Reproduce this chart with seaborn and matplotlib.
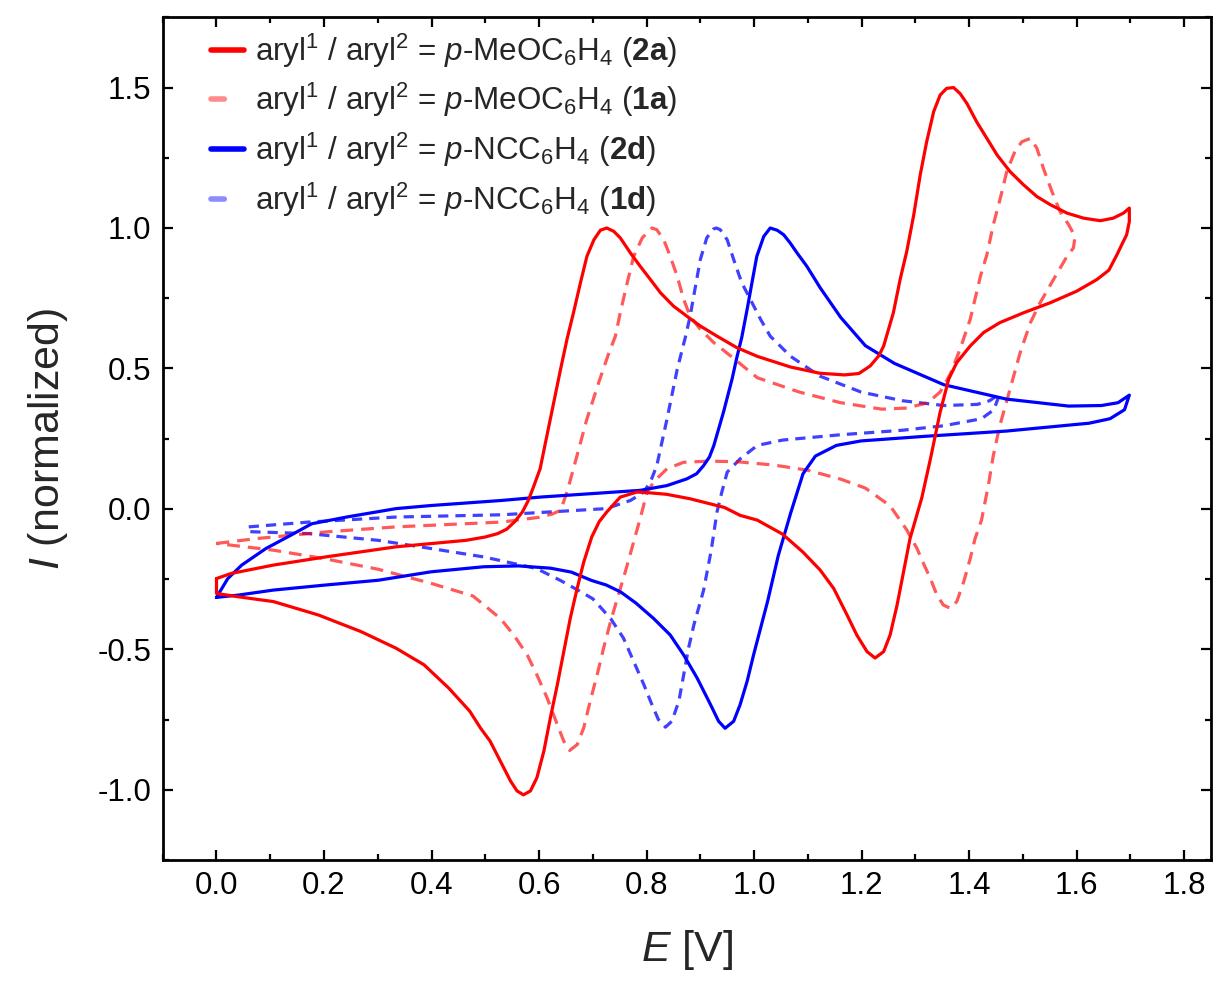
import matplotlib
matplotlib.use("Agg")
import matplotlib.pyplot as plt
from matplotlib.lines import Line2D
from matplotlib.ticker import MultipleLocator, FormatStrFormatter
import pandas as pd
import seaborn as sns

# curve 2a (solid red), E [V] / I (normalized), read along the loop
e_2a = [0.000, 0.027, 0.106, 0.203, 0.334, 0.464, 0.500, 0.523, 0.540, 0.555, 0.569, 0.580, 0.590, 0.602,
        0.621, 0.640, 0.652, 0.664, 0.677, 0.689, 0.702, 0.714, 0.726, 0.739, 0.751, 0.770, 0.788, 0.807,
        0.826, 0.850, 0.875, 0.900, 0.931, 0.968, 1.006, 1.068, 1.122, 1.168, 1.195, 1.216, 1.232, 1.241,
        1.259, 1.272, 1.284, 1.297, 1.309, 1.321, 1.334, 1.346, 1.358, 1.371, 1.383, 1.396, 1.414, 1.433,
        1.452, 1.476, 1.501, 1.526, 1.551, 1.582, 1.613, 1.644, 1.668, 1.687, 1.698,
        1.698, 1.693, 1.684, 1.675, 1.660, 1.638, 1.600, 1.551, 1.501, 1.457, 1.427, 1.402, 1.377, 1.362,
        1.346, 1.328, 1.312, 1.300, 1.290, 1.278, 1.266, 1.253, 1.241, 1.225, 1.210, 1.191, 1.173, 1.148,
        1.123, 1.091, 1.053, 1.006, 0.974, 0.945, 0.881, 0.837, 0.807, 0.782, 0.751, 0.726, 0.712, 0.698,
        0.683, 0.670, 0.658, 0.646, 0.634, 0.621, 0.609, 0.596, 0.584, 0.571, 0.559, 0.547, 0.528, 0.509,
        0.491, 0.471, 0.432, 0.386, 0.334, 0.269, 0.190, 0.106, 0.041, 0.000, 0.000]
i_2a = [-0.248, -0.230, -0.200, -0.171, -0.135, -0.112, -0.100, -0.088, -0.072, -0.045, -0.011, 0.030, 0.080,
        0.143, 0.320, 0.497, 0.604, 0.698, 0.805, 0.899, 0.958, 0.992, 1.000, 0.988, 0.965, 0.911, 0.864,
        0.817, 0.769, 0.722, 0.686, 0.651, 0.615, 0.574, 0.543, 0.505, 0.483, 0.477, 0.482, 0.509, 0.545,
        0.580, 0.698, 0.820, 0.917, 1.047, 1.189, 1.307, 1.414, 1.473, 1.497, 1.500, 1.479, 1.443, 1.378,
        1.319, 1.260, 1.201, 1.154, 1.112, 1.083, 1.053, 1.035, 1.026, 1.035, 1.053, 1.071,
        1.023, 0.976, 0.941, 0.905, 0.850, 0.817, 0.775, 0.734, 0.698, 0.663, 0.628, 0.580, 0.521, 0.462,
        0.344, 0.178, 0.040, -0.040, -0.106, -0.224, -0.342, -0.449, -0.508, -0.531, -0.508, -0.449,
        -0.378, -0.283, -0.218, -0.154, -0.090, -0.040, -0.023, 0.005, 0.036, 0.052, 0.057, 0.060, 0.042,
        -0.011, -0.045, -0.100, -0.190, -0.290, -0.390, -0.508, -0.626, -0.744, -0.862, -0.957, -1.004,
        -1.018, -1.004, -0.969, -0.898, -0.827, -0.780, -0.720, -0.638, -0.555, -0.496, -0.437, -0.378,
        -0.330, -0.313, -0.301, -0.248]

# curve 1a (dashed red)
e_1a = [0.000, 0.073, 0.203, 0.334, 0.530, 0.600, 0.625, 0.640, 0.652, 0.664, 0.689, 0.711, 0.728, 0.742,
        0.751, 0.764, 0.776, 0.792, 0.810, 0.819, 0.832, 0.844, 0.857, 0.869, 0.881, 0.900, 0.925, 0.956,
        1.006, 1.084, 1.161, 1.238, 1.284, 1.323, 1.346, 1.365, 1.383, 1.402, 1.421, 1.433, 1.445, 1.458,
        1.470, 1.485, 1.498, 1.514, 1.526, 1.538, 1.554, 1.569, 1.585, 1.597,
        1.594, 1.582, 1.557, 1.532, 1.514, 1.495, 1.476, 1.457, 1.445, 1.436, 1.423, 1.411, 1.402, 1.390,
        1.377, 1.365, 1.352, 1.340, 1.328, 1.315, 1.303, 1.284, 1.253, 1.207, 1.161, 1.099, 1.037, 0.968,
        0.914, 0.869, 0.838, 0.815, 0.801, 0.788, 0.761, 0.733, 0.720, 0.708, 0.695, 0.683, 0.671, 0.657,
        0.646, 0.634, 0.615, 0.596, 0.578, 0.553, 0.528, 0.477, 0.399, 0.301, 0.203, 0.106, 0.000]
i_1a = [-0.123, -0.106, -0.082, -0.064, -0.047, -0.030, -0.018, -0.005, 0.060, 0.143, 0.320, 0.450, 0.545,
        0.615, 0.698, 0.805, 0.899, 0.965, 1.000, 0.994, 0.958, 0.899, 0.828, 0.746, 0.686, 0.639, 0.592,
        0.545, 0.467, 0.416, 0.378, 0.355, 0.359, 0.378, 0.416, 0.480, 0.568, 0.675, 0.828, 0.905, 1.012,
        1.106, 1.201, 1.272, 1.307, 1.319, 1.284, 1.213, 1.130, 1.059, 1.012, 0.970,
        0.929, 0.899, 0.817, 0.734, 0.663, 0.557, 0.426, 0.296, 0.190, 0.087, -0.040, -0.106, -0.177,
        -0.259, -0.330, -0.354, -0.342, -0.307, -0.248, -0.194, -0.141, -0.075, 0.011, 0.074, 0.106, 0.138,
        0.156, 0.168, 0.170, 0.166, 0.143, 0.100, 0.060, -0.035, -0.220, -0.401, -0.496, -0.591, -0.685,
        -0.780, -0.839, -0.860, -0.827, -0.768, -0.673, -0.591, -0.520, -0.449, -0.390, -0.310, -0.265,
        -0.215, -0.178, -0.147, -0.123]

# curve 2d (solid blue)
e_2d = [0.000, 0.021, 0.047, 0.092, 0.138, 0.177, 0.242, 0.334, 0.399, 0.530, 0.602, 0.695, 0.788, 0.838,
        0.875, 0.893, 0.906, 0.917, 0.925, 0.943, 0.959, 0.968, 0.977, 0.987, 0.996, 1.005, 1.018, 1.030,
        1.043, 1.055, 1.067, 1.080, 1.098, 1.123, 1.161, 1.207, 1.261, 1.353, 1.469, 1.585, 1.646, 1.677,
        1.698,
        1.689, 1.662, 1.623, 1.469, 1.315, 1.199, 1.153, 1.114, 1.091, 1.068, 1.045, 1.025, 1.012, 0.999,
        0.987, 0.974, 0.962, 0.946, 0.934, 0.919, 0.894, 0.869, 0.844, 0.813, 0.780, 0.752, 0.725, 0.698,
        0.660, 0.621, 0.562, 0.497, 0.399, 0.301, 0.203, 0.106, 0.040, 0.000]
i_2d = [-0.315, -0.248, -0.200, -0.141, -0.094, -0.053, -0.029, 0.001, 0.012, 0.030, 0.042, 0.054, 0.066,
        0.083, 0.107, 0.125, 0.154, 0.185, 0.225, 0.344, 0.462, 0.540, 0.610, 0.710, 0.805, 0.899, 0.970,
        1.000, 0.992, 0.976, 0.947, 0.911, 0.864, 0.787, 0.682, 0.581, 0.518, 0.442, 0.391, 0.366, 0.368,
        0.378, 0.405,
        0.353, 0.321, 0.305, 0.277, 0.258, 0.242, 0.226, 0.188, 0.125, -0.015, -0.166, -0.330, -0.425,
        -0.520, -0.614, -0.697, -0.756, -0.781, -0.756, -0.697, -0.602, -0.520, -0.449, -0.390, -0.335,
        -0.296, -0.271, -0.255, -0.225, -0.211, -0.203, -0.206, -0.224, -0.254, -0.271, -0.289, -0.307,
        -0.315]

# curve 1d (dashed blue)
e_1d = [0.060, 0.171, 0.334, 0.530, 0.725, 0.770, 0.795, 0.808, 0.819, 0.838, 0.857, 0.872, 0.881, 0.891,
        0.900, 0.912, 0.924, 0.930, 0.937, 0.950, 0.962, 0.977, 0.993, 1.012, 1.030, 1.068, 1.122, 1.199,
        1.276, 1.353, 1.415, 1.438, 1.457,
        1.446, 1.423, 1.353, 1.276, 1.161, 1.053, 1.006, 0.974, 0.950, 0.940, 0.931, 0.920, 0.906, 0.888,
        0.878, 0.869, 0.860, 0.847, 0.835, 0.822, 0.810, 0.795, 0.776, 0.757, 0.733, 0.700, 0.673, 0.640,
        0.595, 0.497, 0.399, 0.301, 0.171, 0.060, 0.060]
i_1d = [-0.064, -0.047, -0.029, -0.021, 0.001, 0.030, 0.060, 0.100, 0.154, 0.320, 0.497, 0.610, 0.686, 0.793,
        0.888, 0.965, 0.996, 1.000, 0.994, 0.958, 0.888, 0.805, 0.746, 0.675, 0.615, 0.543, 0.473, 0.416,
        0.385, 0.368, 0.372, 0.385, 0.410,
        0.353, 0.321, 0.296, 0.280, 0.264, 0.245, 0.226, 0.178, 0.131, 0.060, -0.011, -0.150, -0.290,
        -0.413, -0.496, -0.591, -0.685, -0.756, -0.777, -0.750, -0.697, -0.626, -0.543, -0.460, -0.390,
        -0.320, -0.290, -0.255, -0.212, -0.171, -0.141, -0.112, -0.088, -0.081, -0.064]

labels = [r"aryl$^1$ / aryl$^2$ = $\it{p}$-MeOC$_6$H$_4$ ($\bf{2a}$)",
          r"aryl$^1$ / aryl$^2$ = $\it{p}$-MeOC$_6$H$_4$ ($\bf{1a}$)",
          r"aryl$^1$ / aryl$^2$ = $\it{p}$-NCC$_6$H$_4$ ($\bf{2d}$)",
          r"aryl$^1$ / aryl$^2$ = $\it{p}$-NCC$_6$H$_4$ ($\bf{1d}$)"]

sns.set_theme(style="ticks")
plt.rcParams["font.family"] = ["Liberation Sans", "DejaVu Sans"]
plt.rcParams["mathtext.fontset"] = "custom"
plt.rcParams["mathtext.rm"] = "Liberation Sans"
plt.rcParams["mathtext.it"] = "Liberation Sans:italic"
plt.rcParams["mathtext.bf"] = "Liberation Sans:bold"

fig = plt.figure(figsize=(12.3, 9.9), dpi=100)
ax = fig.add_axes([0.1323, 0.1313, 0.8523, 0.8512])

df_1d = pd.DataFrame({"E": e_1d, "I": i_1d})
df_1a = pd.DataFrame({"E": e_1a, "I": i_1a})
df_2d = pd.DataFrame({"E": e_2d, "I": i_2d})
df_2a = pd.DataFrame({"E": e_2a, "I": i_2a})

common = dict(x="E", y="I", sort=False, estimator=None, ax=ax, lw=2.3, solid_joinstyle="round")
sns.lineplot(data=df_1d, color="blue", alpha=0.75, linestyle=(0, (3.2, 2.2)), **common)
sns.lineplot(data=df_1a, color="red", alpha=0.65, linestyle=(0, (4, 2.5)), **common)
sns.lineplot(data=df_2d, color="blue", **common)
sns.lineplot(data=df_2a, color="red", **common)

ax.set_xlim(-0.1, 1.85)
ax.set_ylim(-1.25, 1.75)
ax.xaxis.set_major_locator(MultipleLocator(0.2))
ax.xaxis.set_minor_locator(MultipleLocator(0.1))
ax.yaxis.set_major_locator(MultipleLocator(0.5))
ax.yaxis.set_minor_locator(MultipleLocator(0.25))
ax.xaxis.set_major_formatter(FormatStrFormatter("%.1f"))
ax.yaxis.set_major_formatter(FormatStrFormatter("%.1f"))
ax.tick_params(which="both", direction="in", top=True, right=True, width=1.6, colors="black",
               labelsize=22.5, pad=8)
ax.tick_params(which="major", length=7)
ax.tick_params(which="minor", length=4)
for s in ax.spines.values():
    s.set_linewidth(2)
    s.set_color("black")

ax.set_xlabel(r"$\it{E}$ [V]", fontsize=31, labelpad=19)
ax.set_ylabel(r"$\it{I}$ (normalized)", fontsize=31, labelpad=20)

handles = [Line2D([], [], color="red", lw=4, solid_capstyle="round"),
           Line2D([], [], color="red", alpha=0.45, lw=4, dashes=(2.4, 10), dash_capstyle="round"),
           Line2D([], [], color="blue", lw=4, solid_capstyle="round"),
           Line2D([], [], color="blue", alpha=0.45, lw=4, dashes=(2.4, 10), dash_capstyle="round")]
ax.legend(handles, labels, loc="upper left", bbox_to_anchor=(0.034, 0.998), frameon=False,
          fontsize=22.6, handlelength=1.05, handletextpad=0.35, labelspacing=0.36, borderaxespad=0)

fig.savefig("out.png", dpi=100)
